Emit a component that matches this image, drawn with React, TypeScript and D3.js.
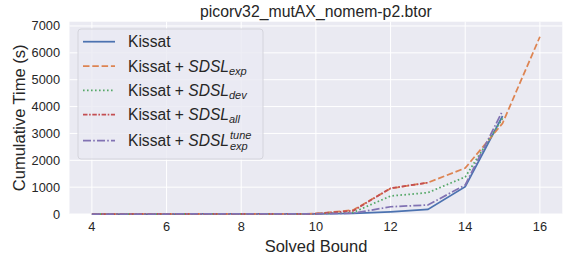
import * as React from "react"
import * as d3 from "d3"

const bounds = [4, 5, 6, 7, 8, 9, 10, 11, 12, 13, 14, 15, 16]
const kissat = [0, 0, 0, 1, 1, 2, 5, 20, 80, 170, 1015, 3650]
const sdslExp = [0, 0, 1, 1, 2, 3, 10, 150, 950, 1170, 1710, 3380, 6600]
const sdslDev = [0, 0, 0, 1, 1, 2, 8, 60, 670, 795, 1380, 3560]
const sdslAll = [0, 0, 1, 1, 2, 3, 10, 120, 960, 1165]
const sdslTune = [0, 0, 0, 1, 1, 2, 6, 30, 270, 335, 1080, 3840]
const xTicks = [4, 6, 8, 10, 12, 14, 16]
const yTicks = [0, 1000, 2000, 3000, 4000, 5000, 6000, 7000]

const series = [
  { name: "Kissat", sub: "", sup: "", values: kissat, color: "#4c72b0", dash: "" },
  { name: "Kissat + SDSL", sub: "exp", sup: "", values: sdslExp, color: "#dd8452", dash: "6.5,2.8" },
  { name: "Kissat + SDSL", sub: "dev", sup: "", values: sdslDev, color: "#55a868", dash: "1.6,2.4" },
  { name: "Kissat + SDSL", sub: "all", sup: "", values: sdslAll, color: "#c44e52", dash: "4.5,1.6,1.6,1.6" },
  { name: "Kissat + SDSL", sub: "exp", sup: "tune", values: sdslTune, color: "#8172b3", dash: "8,2.2,1.6,2.2" },
]

const W = 568
const H = 263
const margin = { left: 69.5, right: 5.7, top: 21.7, bottom: 49 }
const font = "'Liberation Sans', Arial, sans-serif"
const ink = "#262626"

export default function App() {
  const x = d3.scaleLinear().domain([3.4, 16.6]).range([margin.left, W - margin.right])
  const y = d3.scaleLinear().domain([0, 7160]).range([H - margin.bottom, margin.top])
  const line = d3
    .line<number>()
    .x((_d, i) => x(bounds[i]))
    .y((d) => y(d))

  const legendRows = [41.7, 66, 90.3, 114.5, 140.7]

  return (
    <svg width={W} height={H} style={{ position: "absolute", left: 0, top: 0 }} fontFamily={font}>
      <rect x={0} y={0} width={W} height={H} fill="#fff" />
      <rect
        x={margin.left}
        y={margin.top}
        width={W - margin.left - margin.right}
        height={H - margin.top - margin.bottom}
        fill="#eaeaf2"
      />
      {xTicks.map((t) => (
        <g key={"x" + t}>
          <line x1={x(t)} x2={x(t)} y1={margin.top} y2={H - margin.bottom} stroke="#fff" strokeWidth={1} />
          <text x={x(t)} y={231} textAnchor="middle" fontSize={12.8} fill={ink}>
            {t}
          </text>
        </g>
      ))}
      {yTicks.map((t) => (
        <g key={"y" + t}>
          <line x1={margin.left} x2={W - margin.right} y1={y(t)} y2={y(t)} stroke="#fff" strokeWidth={1} />
          <text x={60} y={y(t) + 4.5} textAnchor="end" fontSize={12.8} fill={ink}>
            {t}
          </text>
        </g>
      ))}
      {series.map((s, i) => (
        <path
          key={i}
          d={line(s.values) || ""}
          fill="none"
          stroke={s.color}
          strokeWidth={1.75}
          strokeDasharray={s.dash}
        />
      ))}
      <text x={(margin.left + W - margin.right) / 2} y={17} textAnchor="middle" fontSize={15.8} fill={ink}>
        picorv32_mutAX_nomem-p2.btor
      </text>
      <text x={316} y={252} textAnchor="middle" fontSize={16.5} fill={ink}>
        Solved Bound
      </text>
      <text
        transform={`translate(25,${(margin.top + H - margin.bottom) / 2}) rotate(-90)`}
        textAnchor="middle"
        fontSize={16.5}
        fill={ink}
      >
        Cumulative Time (s)
      </text>
      <rect x={78} y={29} width={185} height={130} rx={3} fill="#eaeaf2" fillOpacity={0.8} stroke="#d4d4dc" strokeWidth={1} />
      {series.map((s, i) => {
        const ly = legendRows[i]
        return (
          <g key={"l" + i}>
            <line x1={83} x2={115} y1={ly} y2={ly} stroke={s.color} strokeWidth={1.75} strokeDasharray={s.dash} />
            <text x={128} y={ly + 5.5} fontSize={15.6} fill={ink}>
              {s.sub ? "Kissat + " : s.name}
              {s.sub && <tspan fontStyle="italic">SDSL</tspan>}
              {s.sub && !s.sup && (
                <tspan fontStyle="italic" fontSize={11} dy={3}>
                  {s.sub}
                </tspan>
              )}
              {s.sup && (
                <tspan fontStyle="italic" fontSize={11} dx={1} dy={-7}>
                  {s.sup}
                </tspan>
              )}
              {s.sup && (
                <tspan fontStyle="italic" fontSize={11} dx={-21.5} dy={10.5}>
                  {s.sub}
                </tspan>
              )}
            </text>
          </g>
        )
      })}
    </svg>
  )
}
